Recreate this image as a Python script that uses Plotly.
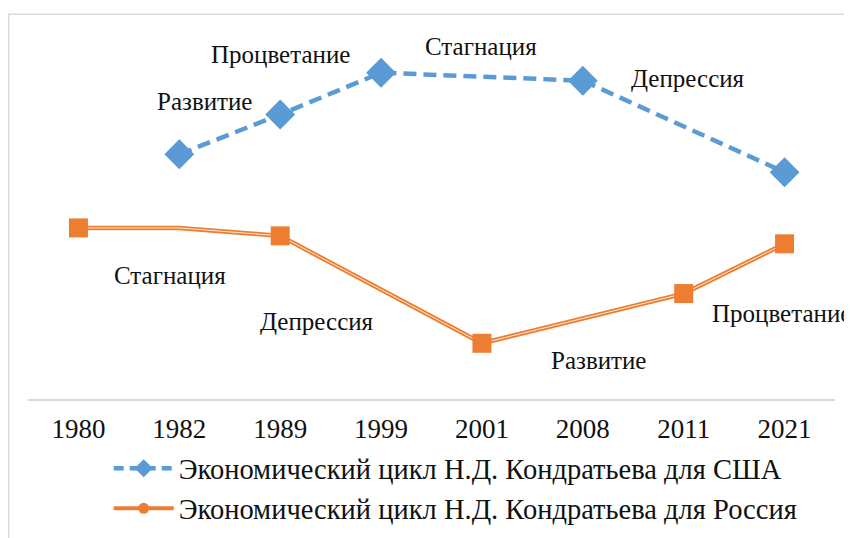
import plotly.graph_objects as go

years = ["1980", "1982", "1989", "1999", "2001", "2008", "2011", "2021"]
usa = [None, 6.15, 7.15, 8.2, None, 8.0, None, 5.7]
russia = [4.3, 4.3, 4.1, None, 1.4, None, 2.65, 3.9]
russia_marked = [True, False, True, False, True, False, True, True]

usa_name = "Экономический цикл Н.Д. Кондратьева для США"
rus_name = "Экономический цикл Н.Д. Кондратьева для Россия"

# phase labels: (text, series, category, xshift, yshift)
labels = [
    ("Развитие", "usa", "1982", 25, 53),
    ("Процветание", "usa", "1989", 0, 60),
    ("Стагнация", "usa", "1999", 100, 26),
    ("Депрессия", "usa", "2008", 105, 2),
    ("Стагнация", "rus", "1980", 92, -48),
    ("Депрессия", "rus", "1989", 37, -86),
    ("Развитие", "rus", "2001", 117, -17),
    ("Процветание", "rus", "2021", -3, -70),
]

BLUE = "#5b9bd5"
ORANGE = "#ed7d31"
FONT = "Liberation Serif, Times New Roman, serif"

fig = go.Figure()

# USA series
fig.add_trace(go.Scatter(
    x=years, y=usa, mode="lines+markers", connectgaps=True, showlegend=False,
    line=dict(color=BLUE, width=4.5, dash="13px,7px"),
    marker=dict(symbol="diamond", size=23, color=BLUE),
    hoverinfo="skip"))

# Russia series (double line look)
fig.add_trace(go.Scatter(
    x=years, y=russia, mode="lines", connectgaps=True, showlegend=False,
    line=dict(color=ORANGE, width=4.5), hoverinfo="skip"))
fig.add_trace(go.Scatter(
    x=years, y=russia, mode="lines", connectgaps=True, showlegend=False,
    line=dict(color="#fde9d9", width=1), hoverinfo="skip"))
fig.add_trace(go.Scatter(
    x=[y for y, m in zip(years, russia_marked) if m],
    y=[v for v, m in zip(russia, russia_marked) if m],
    mode="markers", showlegend=False,
    marker=dict(symbol="square", size=19, color=ORANGE),
    hoverinfo="skip"))

# legend entries
fig.add_trace(go.Scatter(
    x=[None], y=[None], mode="lines+markers", name=usa_name,
    line=dict(color=BLUE, width=4.5, dash="10px,6px"),
    marker=dict(symbol="diamond", size=14, color=BLUE)))
fig.add_trace(go.Scatter(
    x=[None], y=[None], mode="lines+markers", name=rus_name,
    line=dict(color=ORANGE, width=4),
    marker=dict(symbol="circle", size=11, color=ORANGE)))

series = {"usa": usa, "rus": russia}
for text, s, cat, dx, dy in labels:
    i = years.index(cat)
    fig.add_annotation(
        x=i, y=series[s][i], xref="x", yref="y", text=text, showarrow=False,
        xshift=dx, yshift=dy, font=dict(family=FONT, size=25, color="#111111"))

# chart border
fig.add_shape(type="rect", xref="paper", yref="paper",
              x0=-0.024, x1=1.1, y0=-0.6, y1=1.018,
              line=dict(color="#d9d9d9", width=1.5), layer="below")

fig.update_layout(
    width=852, height=538,
    margin=dict(l=20, r=25, t=13, b=145),
    paper_bgcolor="white", plot_bgcolor="white",
    font=dict(family=FONT, size=25, color="#111111"),
    xaxis=dict(type="category", categoryorder="array", categoryarray=years,
               range=[-0.5, 7.5], showgrid=False, zeroline=False,
               showline=True, linecolor="#d9d9d9", linewidth=2,
               ticks="", ticklabelstandoff=5,
               tickfont=dict(family=FONT, size=27, color="#111111"),
               fixedrange=True),
    yaxis=dict(range=[0, 9.5], visible=False, fixedrange=True),
    legend=dict(orientation="v", x=0.1, xanchor="left", y=-0.117, yanchor="top",
                font=dict(family=FONT, size=28.5, color="#111111"),
                itemwidth=60, tracegroupgap=0, bgcolor="rgba(0,0,0,0)"),
    showlegend=True,
)

fig.write_html("out.html")
